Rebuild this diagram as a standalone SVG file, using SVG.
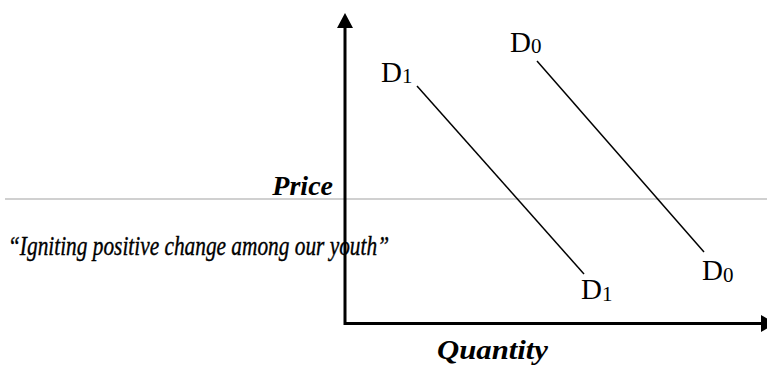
<svg xmlns="http://www.w3.org/2000/svg" width="767" height="371" viewBox="0 0 767 371">
<style>
.lbl{font-family:"Liberation Serif","Times New Roman",serif;fill:#000}
.d{font-size:29px}
.sub{font-size:21px}
.ax{font-family:"Liberation Serif","Times New Roman",serif;font-weight:bold;font-style:italic;font-size:28px;fill:#000}
.quote{font-family:"Liberation Serif","Times New Roman",serif;font-style:italic;font-size:28px;fill:#000;stroke:#000;stroke-width:0.4}
.curve{stroke:#000;stroke-width:1.5;fill:none}
.axis{stroke:#000;stroke-width:3;fill:none}
</style>
<rect width="767" height="371" fill="#fff"/>
<line x1="5" y1="199" x2="767" y2="199" stroke="#d0d0d0" stroke-width="2"/>
<g id="connectors">
<line class="axis" x1="345" y1="26" x2="345" y2="325"/>
<polygon points="345,13 337,28 353,28" fill="#000"/>
<line class="axis" x1="345" y1="323.5" x2="763" y2="323.5"/>
<polygon points="761,315 776,323.5 761,332" fill="#000"/>
<line id="d1-line" class="curve" x1="417" y1="86" x2="584" y2="274"/>
<line id="d0-line" class="curve" x1="537" y1="61" x2="704" y2="252"/>
</g>
<g id="price-label"><text class="ax" x="333" y="195" text-anchor="end">Price</text></g>
<g id="quantity-label"><text class="ax" x="437" y="359" textLength="111" lengthAdjust="spacingAndGlyphs">Quantity</text></g>
<g id="quote"><text class="quote" x="8" y="255" textLength="381" lengthAdjust="spacingAndGlyphs">“Igniting positive change among our youth”</text></g>
<g id="d1-top"><text class="lbl d" x="381" y="82">D<tspan class="sub" dy="1">1</tspan></text></g>
<g id="d0-top"><text class="lbl d" x="510" y="52">D<tspan class="sub" dy="1">0</tspan></text></g>
<g id="d1-bottom"><text class="lbl d" x="581" y="299">D<tspan class="sub" dy="2">1</tspan></text></g>
<g id="d0-bottom"><text class="lbl d" x="702" y="280">D<tspan class="sub" dy="2">0</tspan></text></g>
</svg>
